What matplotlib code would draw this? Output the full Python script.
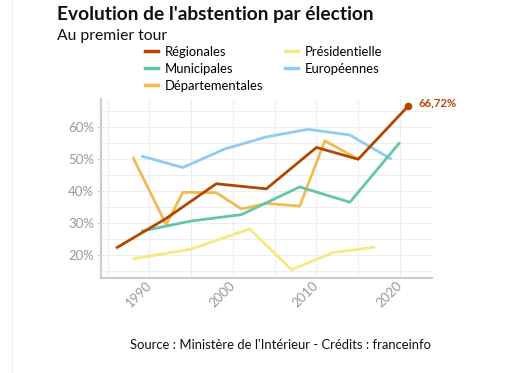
import matplotlib.pyplot as plt
from matplotlib.lines import Line2D
from matplotlib.ticker import MultipleLocator, FuncFormatter

plt.rcParams['font.family'] = ['Lato', 'DejaVu Sans']

# Abstention au premier tour (%)
reg_years = [1986, 1992, 1998, 2004, 2010, 2015, 2021]
reg_vals = [22.1, 31.4, 42.3, 40.7, 53.7, 50.0, 66.72]

mun_years = [1989, 1995, 2001, 2008, 2014, 2020]
mun_vals = [27.4, 30.6, 32.6, 41.3, 36.5, 55.3]

dep_years = [1988, 1992, 1994, 1998, 2001, 2004, 2008, 2011, 2015]
dep_vals = [50.7, 29.5, 39.6, 39.5, 34.4, 36.1, 35.3, 55.8, 50.0]

pres_years = [1988, 1995, 2002, 2007, 2012, 2017]
pres_vals = [18.7, 21.8, 28.1, 15.3, 20.7, 22.4]

eur_years = [1989, 1994, 1999, 2004, 2009, 2014, 2019]
eur_vals = [51.0, 47.4, 53.2, 57.0, 59.4, 57.6, 50.0]

colors = {
    'Régionales': '#b34700',
    'Municipales': '#63c7a3',
    'Départementales': '#f0bb55',
    'Présidentielle': '#f7e882',
    'Européennes': '#8ecdf2',
}

fig = plt.figure(figsize=(5.29, 3.73), dpi=100)
ax = fig.add_axes([0.191, 0.2555, 0.625, 0.479])

series = [
    ('Européennes', eur_years, eur_vals),
    ('Présidentielle', pres_years, pres_vals),
    ('Départementales', dep_years, dep_vals),
    ('Municipales', mun_years, mun_vals),
    ('Régionales', reg_years, reg_vals),
]
for name, xs, ys in series:
    ax.plot(xs, ys, color=colors[name], lw=2, solid_capstyle='butt', zorder=3)

# dernier point annoté
ax.plot(reg_years[-1], reg_vals[-1], 'o', color=colors['Régionales'], ms=4.5, zorder=4)
ax.annotate(f"{reg_vals[-1]:.2f}%".replace('.', ','), (reg_years[-1], reg_vals[-1]),
            xytext=(7, 2.5), textcoords='offset points', color=colors['Régionales'],
            fontsize=8.2, fontweight='bold', va='center', ha='left', annotation_clip=False)

ax.set_xlim(1984.2, 2023.8)
ax.set_ylim(12.8, 68.9)
ax.xaxis.set_major_locator(MultipleLocator(10))
ax.xaxis.set_minor_locator(MultipleLocator(5))
ax.yaxis.set_major_locator(MultipleLocator(10))
ax.yaxis.set_minor_locator(MultipleLocator(5))
ax.yaxis.set_major_formatter(FuncFormatter(lambda v, p: f"{v:.0f}%"))
ax.set_yticks([20, 30, 40, 50, 60])

ax.grid(which='both', color='#eeeeee', lw=0.8, zorder=0)
ax.set_axisbelow(True)
for s in ['top', 'right']:
    ax.spines[s].set_visible(False)
for s in ['left', 'bottom']:
    ax.spines[s].set_color('#cccccc')
    ax.spines[s].set_linewidth(1.5)

ax.tick_params(which='both', length=0)
ax.tick_params(axis='y', which='major', length=3, color='#cccccc', labelsize=9.5,
               labelcolor='#999999', pad=2)
ax.tick_params(axis='x', labelsize=9.5, labelcolor='#999999', pad=4)
for lab in ax.get_xticklabels():
    lab.set_rotation(45)
    lab.set_ha('right')
    lab.set_va('center')
    lab.set_rotation_mode('anchor')

# legende
order = ['Régionales', 'Municipales', 'Départementales', 'Présidentielle', 'Européennes']
handles = [Line2D([], [], color=colors[n], lw=2.5) for n in order]
fig.legend(handles, order, ncol=2, loc='upper left', bbox_to_anchor=(0.274, 0.878),
           frameon=False, fontsize=9.4, handlelength=1.0, handletextpad=0.5,
           columnspacing=1.7, labelspacing=0.4, borderaxespad=0, borderpad=0)

fig.text(0.108, 0.962, "Evolution de l'abstention par élection", fontsize=13.8,
         fontweight='bold', va='center', ha='left', color='#111111')
fig.text(0.108, 0.903, "Au premier tour", fontsize=11.3, va='center', ha='left',
         color='#111111')
fig.text(0.246, 0.075, "Source : Ministère de l'Intérieur - Crédits : franceinfo",
         fontsize=9.4, va='center', ha='left', color='#111111')

fig.add_artist(Line2D([0.023, 0.023], [0, 1], color='#eeeeee', lw=1))

fig.savefig('out.png', dpi=100)
